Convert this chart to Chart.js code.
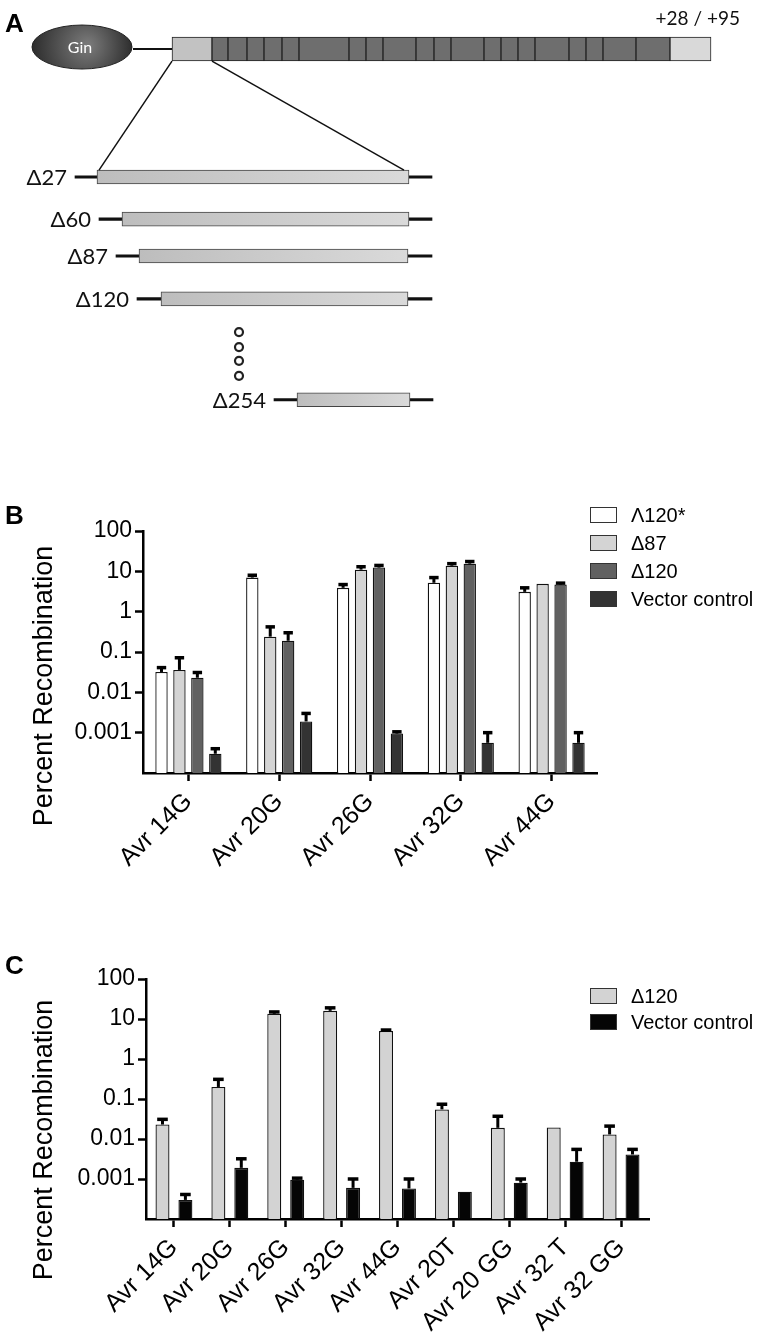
<!DOCTYPE html>
<html>
<head>
<meta charset="utf-8">
<script src="https://cdn.jsdelivr.net/npm/chart.js@4.4.1/dist/chart.umd.min.js"></script>
<style>
  html, body { margin: 0; padding: 0; background: #fff; }
  #page { position: relative; width: 760px; height: 1344px; overflow: hidden; font-family: "Liberation Sans", Arial, sans-serif; color: #000; }
  canvas { position: absolute; left: 0; }
  .letter { position: absolute; left: 5px; font-weight: bold; font-size: 26px; line-height: 1; }
  .ytitle { position: absolute; font-size: 27px; line-height: 1; white-space: nowrap; transform: translate(-50%, -50%) rotate(-90deg); }
  .legend { position: absolute; left: 590px; font-size: 20px; }
  .legend .row { display: flex; align-items: center; }
  .legend .sw { width: 27px; height: 16px; box-sizing: border-box; border: 1.5px solid #333; margin-right: 14px; }
</style>
</head>
<body>
<div id="page">
  <canvas id="chartA" width="760" height="430" style="top:0"></canvas>
  <div class="letter" style="top:10px">A</div>

  <canvas id="chartB" width="760" height="420" style="top:470px"></canvas>
  <div class="letter" style="top:502px">B</div>
  <div class="ytitle" style="left:43px; top:686px">Percent Recombination</div>
  <div class="legend" id="legendB" style="top:501px"></div>

  <canvas id="chartC" width="760" height="404" style="top:940px"></canvas>
  <div class="letter" style="top:952px">C</div>
  <div class="ytitle" style="left:43px; top:1140px">Percent Recombination</div>
  <div class="legend" id="legendC" style="top:983px"></div>
</div>

<script>
// ---- panel A: schematic (x in drawing units, rows in construct rows) ----
const segEdges = [172, 212, 228, 247, 264, 282, 299, 349, 366, 383, 416, 434, 451, 484, 501, 518, 535, 569, 586, 603, 636, 670, 711];
const topRow = -3.16;
const ginX = 82;
const constructLabels = ['Δ27', 'Δ60', 'Δ87', 'Δ120', 'Δ254'];
const constructStart = [97, 122, 139, 161, 297];
const constructEnd = [409, 409, 408, 408, 410];
const lineStart = [75, 99, 116, 137, 274];
const lineEnd = [432, 432, 432, 432, 433];
const constructRow = [0, 1.04, 1.95, 3.01, 5.5];
const dotX = 239;
const dotRows = [3.83, 4.2, 4.54, 4.91];

// ---- panel B ----
const catsB = ['Avr 14G', 'Avr 20G', 'Avr 26G', 'Avr 32G', 'Avr 44G'];
const bLambda120 = [0.032, 7.0, 3.9, 5.2, 3.1];
const bLambda120Err = [0.041, 8.0, 4.7, 7.0, 3.9];
const bDelta87 = [0.036, 0.24, 11, 13.8, 4.9];
const bDelta87Err = [0.072, 0.42, 13, 15.5, null];
const bDelta120 = [0.023, 0.19, 12.4, 15.5, 4.7];
const bDelta120Err = [0.031, 0.30, 14, 17.5, 5.1];
const bVector = [0.0003, 0.0019, 0.00095, 0.00056, 0.00056];
const bVectorErr = [0.0004, 0.003, 0.00105, 0.001, 0.001];

// ---- panel C ----
const catsC = ['Avr 14G', 'Avr 20G', 'Avr 26G', 'Avr 32G', 'Avr 44G', 'Avr 20T', 'Avr 20 GG', 'Avr 32 T', 'Avr 32 GG'];
const cDelta120 = [0.023, 0.20, 13.5, 16, 5.0, 0.055, 0.019, 0.0195, 0.013];
const cDelta120Err = [0.031, 0.31, 15, 19, 5.3, 0.074, 0.037, null, 0.021];
const cVector = [0.0003, 0.0019, 0.00096, 0.0006, 0.00058, 0.00048, 0.00081, 0.0027, 0.0041];
const cVectorErr = [0.00041, 0.0032, 0.00105, 0.001, 0.001, null, 0.001, 0.0055, 0.0055];

const yTicks = [0.001, 0.01, 0.1, 1, 10, 100];

// ---------------- panel A ----------------
const pxRow = 40.5;
const segments = segEdges.slice(0, -1).map((s, i) => ({ x: [s, segEdges[i + 1]], y: topRow }));
const segColors = segments.map((s, i) => i === 0 ? '#c2c2c2' : i === segments.length - 1 ? '#d9d9d9' : '#6e6e6e');
const segThick = segments.map((s, i) => i === 2 ? 26 : 24);

function constructFill(context) {
  const chart = context.chart;
  if (!chart.chartArea || !context.raw) return '#cccccc';
  const xs = chart.scales.x;
  const g = chart.ctx.createLinearGradient(xs.getPixelForValue(context.raw.x[0]), 0, xs.getPixelForValue(context.raw.x[1]), 0);
  g.addColorStop(0, '#bdbdbd');
  g.addColorStop(1, '#dadada');
  return g;
}

const schematicText = {
  id: 'schematicText',
  afterDatasetsDraw(chart) {
    const { ctx, scales: { x, y } } = chart;
    const cx = x.getPixelForValue(ginX), cy = y.getPixelForValue(topRow) - 2;
    ctx.save();
    const g = ctx.createRadialGradient(cx + 6, cy - 2, 3, cx, cy, 52);
    g.addColorStop(0, '#777777');
    g.addColorStop(1, '#2a2a2a');
    ctx.beginPath();
    ctx.ellipse(cx, cy, 50, 22, 0, 0, Math.PI * 2);
    ctx.fillStyle = g;
    ctx.fill();
    ctx.strokeStyle = '#222';
    ctx.lineWidth = 1;
    ctx.stroke();
    ctx.fillStyle = '#fff';
    ctx.font = '16px Lato';
    ctx.textAlign = 'center';
    ctx.textBaseline = 'middle';
    ctx.fillText('Gin', cx - 2, cy + 1);

    ctx.fillStyle = '#111';
    ctx.font = '22px Lato';
    ctx.textAlign = 'right';
    constructLabels.forEach((t, i) => {
      ctx.fillText(t, x.getPixelForValue(lineStart[i]) - 8, y.getPixelForValue(constructRow[i]) + 1);
    });
    ctx.font = '19px Lato';
    ctx.fillText('+28 / +95', x.getPixelForValue(segEdges[segEdges.length - 1]) + 29, 19);
    ctx.restore();
  }
};

new Chart(document.getElementById('chartA'), {
  type: 'bar',
  data: {
    datasets: [
      {
        type: 'bar', indexAxis: 'y', grouped: false, order: 3,
        data: segments, backgroundColor: segColors, barThickness: segThick,
        borderColor: '#222', borderWidth: 1, borderSkipped: false
      },
      {
        type: 'bar', indexAxis: 'y', grouped: false, order: 2,
        data: lineStart.map((s, i) => ({ x: [s, lineEnd[i]], y: constructRow[i] })),
        backgroundColor: '#111', barThickness: 2.5, borderWidth: 0
      },
      {
        type: 'bar', indexAxis: 'y', grouped: false, order: 1,
        data: constructStart.map((s, i) => ({ x: [s, constructEnd[i]], y: constructRow[i] })),
        backgroundColor: constructFill, barThickness: 14,
        borderColor: '#444', borderWidth: 1, borderSkipped: false
      },
      {
        type: 'line', order: 0, data: [{ x: 133, y: topRow }, { x: segEdges[0], y: topRow }],
        borderColor: '#111', borderWidth: 2, pointRadius: 0
      },
      {
        type: 'line', order: 0, data: [{ x: segEdges[0], y: topRow + 0.3 }, { x: constructStart[0] + 2, y: -0.17 }],
        borderColor: '#111', borderWidth: 1.5, pointRadius: 0
      },
      {
        type: 'line', order: 0, data: [{ x: segEdges[1], y: topRow + 0.3 }, { x: constructEnd[0] - 5, y: -0.17 }],
        borderColor: '#111', borderWidth: 1.5, pointRadius: 0
      },
      {
        type: 'scatter', order: 0, data: dotRows.map(r => ({ x: dotX, y: r })),
        pointRadius: 4, pointBackgroundColor: '#fff', pointBorderColor: '#222', pointBorderWidth: 2.2
      }
    ]
  },
  options: {
    responsive: false, animation: false,
    layout: { padding: 0, autoPadding: false },
    plugins: { legend: { display: false }, tooltip: { enabled: false } },
    scales: {
      x: { type: 'linear', min: 0, max: 760, offset: false, display: false },
      y: { type: 'linear', min: -177 / pxRow, max: (430 - 177) / pxRow, offset: false, beginAtZero: false, reverse: true, display: false }
    }
  },
  plugins: [schematicText]
});

// ---------------- panels B and C ----------------
const errorBars = {
  id: 'errorBars',
  afterDatasetsDraw(chart) {
    const { ctx } = chart;
    const ys = chart.scales.y;
    chart.data.datasets.forEach((ds, di) => {
      if (!ds.errUpper) return;
      chart.getDatasetMeta(di).data.forEach((bar, i) => {
        const up = ds.errUpper[i];
        if (up == null) return;
        const yE = ys.getPixelForValue(up);
        const half = bar.width * 0.38;
        ctx.save();
        ctx.strokeStyle = '#000';
        ctx.lineWidth = 3;
        ctx.beginPath();
        ctx.moveTo(bar.x, bar.y);
        ctx.lineTo(bar.x, yE);
        ctx.stroke();
        ctx.lineWidth = 3.5;
        ctx.beginPath();
        ctx.moveTo(bar.x - half, yE);
        ctx.lineTo(bar.x + half, yE);
        ctx.stroke();
        ctx.restore();
      });
    });
  }
};

function logAxis(width) {
  return {
    type: 'logarithmic', min: 0.0001, max: 100,
    afterBuildTicks: s => { s.ticks = yTicks.map(v => ({ value: v })); },
    afterFit: s => { s.width = width; },
    ticks: { callback: v => String(v), color: '#000', font: { family: 'Liberation Sans', size: 23 }, padding: 3, autoSkip: false },
    grid: { drawOnChartArea: false, tickLength: 8, tickWidth: 2.5, tickColor: '#000' },
    border: { color: '#000', width: 2.5 }
  };
}

function catAxis(height) {
  return {
    type: 'category',
    afterFit: s => { s.height = height; },
    ticks: { color: '#000', font: { family: 'Liberation Sans', size: 25 }, maxRotation: 45, minRotation: 45, padding: 6, autoSkip: false },
    grid: { drawOnChartArea: false, offset: false, tickLength: 8, tickWidth: 2.5, tickColor: '#000' },
    border: { color: '#000', width: 2.5 }
  };
}

function makeLegend(id, datasets, rowH) {
  const el = document.getElementById(id);
  datasets.forEach(ds => {
    const row = document.createElement('div');
    row.className = 'row';
    row.style.height = rowH + 'px';
    const sw = document.createElement('span');
    sw.className = 'sw';
    sw.style.background = ds.backgroundColor;
    const tx = document.createElement('span');
    tx.textContent = ds.label;
    row.appendChild(sw);
    row.appendChild(tx);
    el.appendChild(row);
  });
}

const datasetsB = [
  { label: 'Λ120*', data: bLambda120, errUpper: bLambda120Err, backgroundColor: '#ffffff' },
  { label: 'Δ87', data: bDelta87, errUpper: bDelta87Err, backgroundColor: '#d4d4d4' },
  { label: 'Δ120', data: bDelta120, errUpper: bDelta120Err, backgroundColor: '#616161' },
  { label: 'Vector control', data: bVector, errUpper: bVectorErr, backgroundColor: '#333333' }
].map(d => Object.assign(d, { borderColor: '#111', borderWidth: 1.3, categoryPercentage: 0.79, barPercentage: 0.69 }));

new Chart(document.getElementById('chartB'), {
  type: 'bar',
  data: { labels: catsB, datasets: datasetsB },
  options: {
    responsive: false, animation: false,
    layout: { padding: { left: 0, top: 61, right: 163, bottom: 0 } },
    plugins: { legend: { display: false }, tooltip: { enabled: false } },
    scales: { x: catAxis(117), y: logAxis(143) }
  },
  plugins: [errorBars]
});
makeLegend('legendB', datasetsB, 28);

const datasetsC = [
  { label: 'Δ120', data: cDelta120, errUpper: cDelta120Err, backgroundColor: '#d3d3d3' },
  { label: 'Vector control', data: cVector, errUpper: cVectorErr, backgroundColor: '#050505' }
].map(d => Object.assign(d, { borderColor: '#111', borderWidth: 1.3, categoryPercentage: 0.82, barPercentage: 0.61 }));

new Chart(document.getElementById('chartC'), {
  type: 'bar',
  data: { labels: catsC, datasets: datasetsC },
  options: {
    responsive: false, animation: false,
    layout: { padding: { left: 0, top: 39, right: 111, bottom: 0 } },
    plugins: { legend: { display: false }, tooltip: { enabled: false } },
    scales: { x: catAxis(125), y: logAxis(146) }
  },
  plugins: [errorBars]
});
makeLegend('legendC', datasetsC, 26);
</script>
</body>
</html>
